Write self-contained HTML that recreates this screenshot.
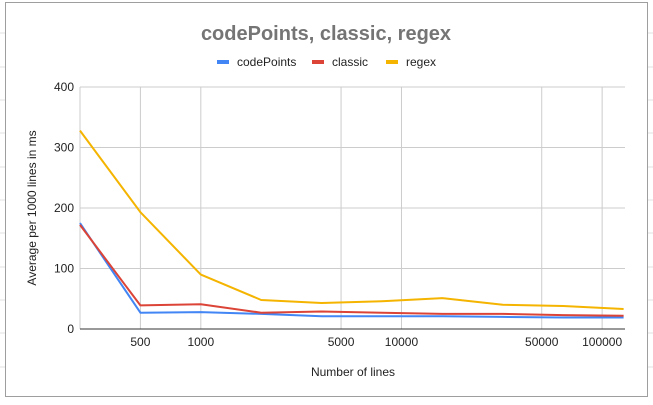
<!DOCTYPE html>
<html><head><meta charset="utf-8"><style>
body{margin:0;background:#fff;width:653px;height:400px;overflow:hidden;font-family:"Liberation Sans",Arial,sans-serif}
</style></head><body>
<svg width="653" height="400" xmlns="http://www.w3.org/2000/svg">
<g stroke="#e0e0e0" stroke-width="1">
<line x1="0" y1="33" x2="5" y2="33"/><line x1="0" y1="67" x2="5" y2="67"/><line x1="0" y1="100" x2="5" y2="100"/><line x1="0" y1="133" x2="5" y2="133"/><line x1="0" y1="167" x2="5" y2="167"/><line x1="0" y1="200" x2="5" y2="200"/><line x1="0" y1="233" x2="5" y2="233"/><line x1="0" y1="267" x2="5" y2="267"/><line x1="0" y1="300" x2="5" y2="300"/><line x1="0" y1="333" x2="5" y2="333"/><line x1="0" y1="367" x2="5" y2="367"/>
<line x1="648" y1="33" x2="653" y2="33"/><line x1="648" y1="67" x2="653" y2="67"/><line x1="648" y1="100" x2="653" y2="100"/><line x1="648" y1="133" x2="653" y2="133"/><line x1="648" y1="167" x2="653" y2="167"/><line x1="648" y1="200" x2="653" y2="200"/><line x1="648" y1="233" x2="653" y2="233"/><line x1="648" y1="267" x2="653" y2="267"/><line x1="648" y1="300" x2="653" y2="300"/><line x1="648" y1="333" x2="653" y2="333"/><line x1="648" y1="367" x2="653" y2="367"/>
</g>
<rect x="5.5" y="2.5" width="642" height="394" fill="#fff" stroke="#9e9e9e"/>
<text x="326" y="40" text-anchor="middle" font-size="20" font-weight="bold" fill="#757575">codePoints, classic, regex</text>
<g id="legend" font-size="12" fill="#222"></g>
<g id="grid"></g>
<g id="axes" font-size="12" fill="#222"></g>
<g id="series"></g>
<text x="353" y="376" text-anchor="middle" font-size="12" fill="#222">Number of lines</text>
<text transform="translate(36,208) rotate(-90)" text-anchor="middle" font-size="12" fill="#222">Average per 1000 lines in ms</text>
</svg>
<script>
const xValues=[250,500,1000,2000,4000,8000,16000,32000,64000,128000];
const codePoints=[175,27,28,25,21,21,21,20,19,19];
const classic=[172,39,41,27,29,27,25,25,23,22];
const regex=[328,193,90,48,43,46,51,40,38,33];
const xTicks=[500,1000,5000,10000,50000,100000];
const xTickLabels=["500","1000","5000","10000","50000","100000"];
const yTicks=[0,100,200,300,400];
const seriesNames=["codePoints","classic","regex"];
const colors=["#4285f4","#db4437","#f4b400"];
const NS="http://www.w3.org/2000/svg";
const L=80,R=625,T=87,B=329;
const xmin=250,xmax=130000;
function xs(v){return L+(Math.log10(v)-Math.log10(xmin))/(Math.log10(xmax)-Math.log10(xmin))*(R-L);}
function ys(v){return B-v/400*(B-T);}
function mk(t,a,p){const e=document.createElementNS(NS,t);for(const k in a)e.setAttribute(k,a[k]);p.appendChild(e);return e;}
const grid=document.getElementById('grid'),axes=document.getElementById('axes'),ser=document.getElementById('series'),leg=document.getElementById('legend');
yTicks.forEach(v=>{
 if(v>0){const g=mk('line',{x1:L,x2:R,y1:ys(v),y2:ys(v),stroke:'#cccccc'},grid);
 
 }
 const t=mk('text',{x:L-6,y:ys(v)+4,'text-anchor':'end'},axes);t.textContent=v;
 
 
});
{const g=mk('line',{x1:L,x2:L,y1:T,y2:B,stroke:'#cccccc'},grid);

}
xTicks.forEach((v,i)=>{
 const g=mk('line',{x1:xs(v),x2:xs(v),y1:T,y2:B,stroke:'#cccccc'},grid);
 
 
 const t=mk('text',{x:xs(v),y:B+17,'text-anchor':'middle'},axes);t.textContent=xTickLabels[i];
 
 
});
{const a=mk('line',{x1:L,x2:R,y1:B,y2:B,stroke:'#333'},axes);

}
[codePoints,classic,regex].forEach((d,si)=>{
 const pts=d.map((v,i)=>xs(xValues[i]).toFixed(1)+','+ys(v).toFixed(1)).join(' ');
 const p=mk('polyline',{points:pts,fill:'none',stroke:colors[si],'stroke-width':2,'stroke-linejoin':'round'},ser);
 
 
});
const legX=[217,312,386];
seriesNames.forEach((n,i)=>{
 const r=mk('rect',{x:legX[i],y:60,width:12,height:4,fill:colors[i]},leg);
 
 
 const t=mk('text',{x:legX[i]+20,y:66},leg);t.textContent=n;
 
 
});
</script>
</body></html>
